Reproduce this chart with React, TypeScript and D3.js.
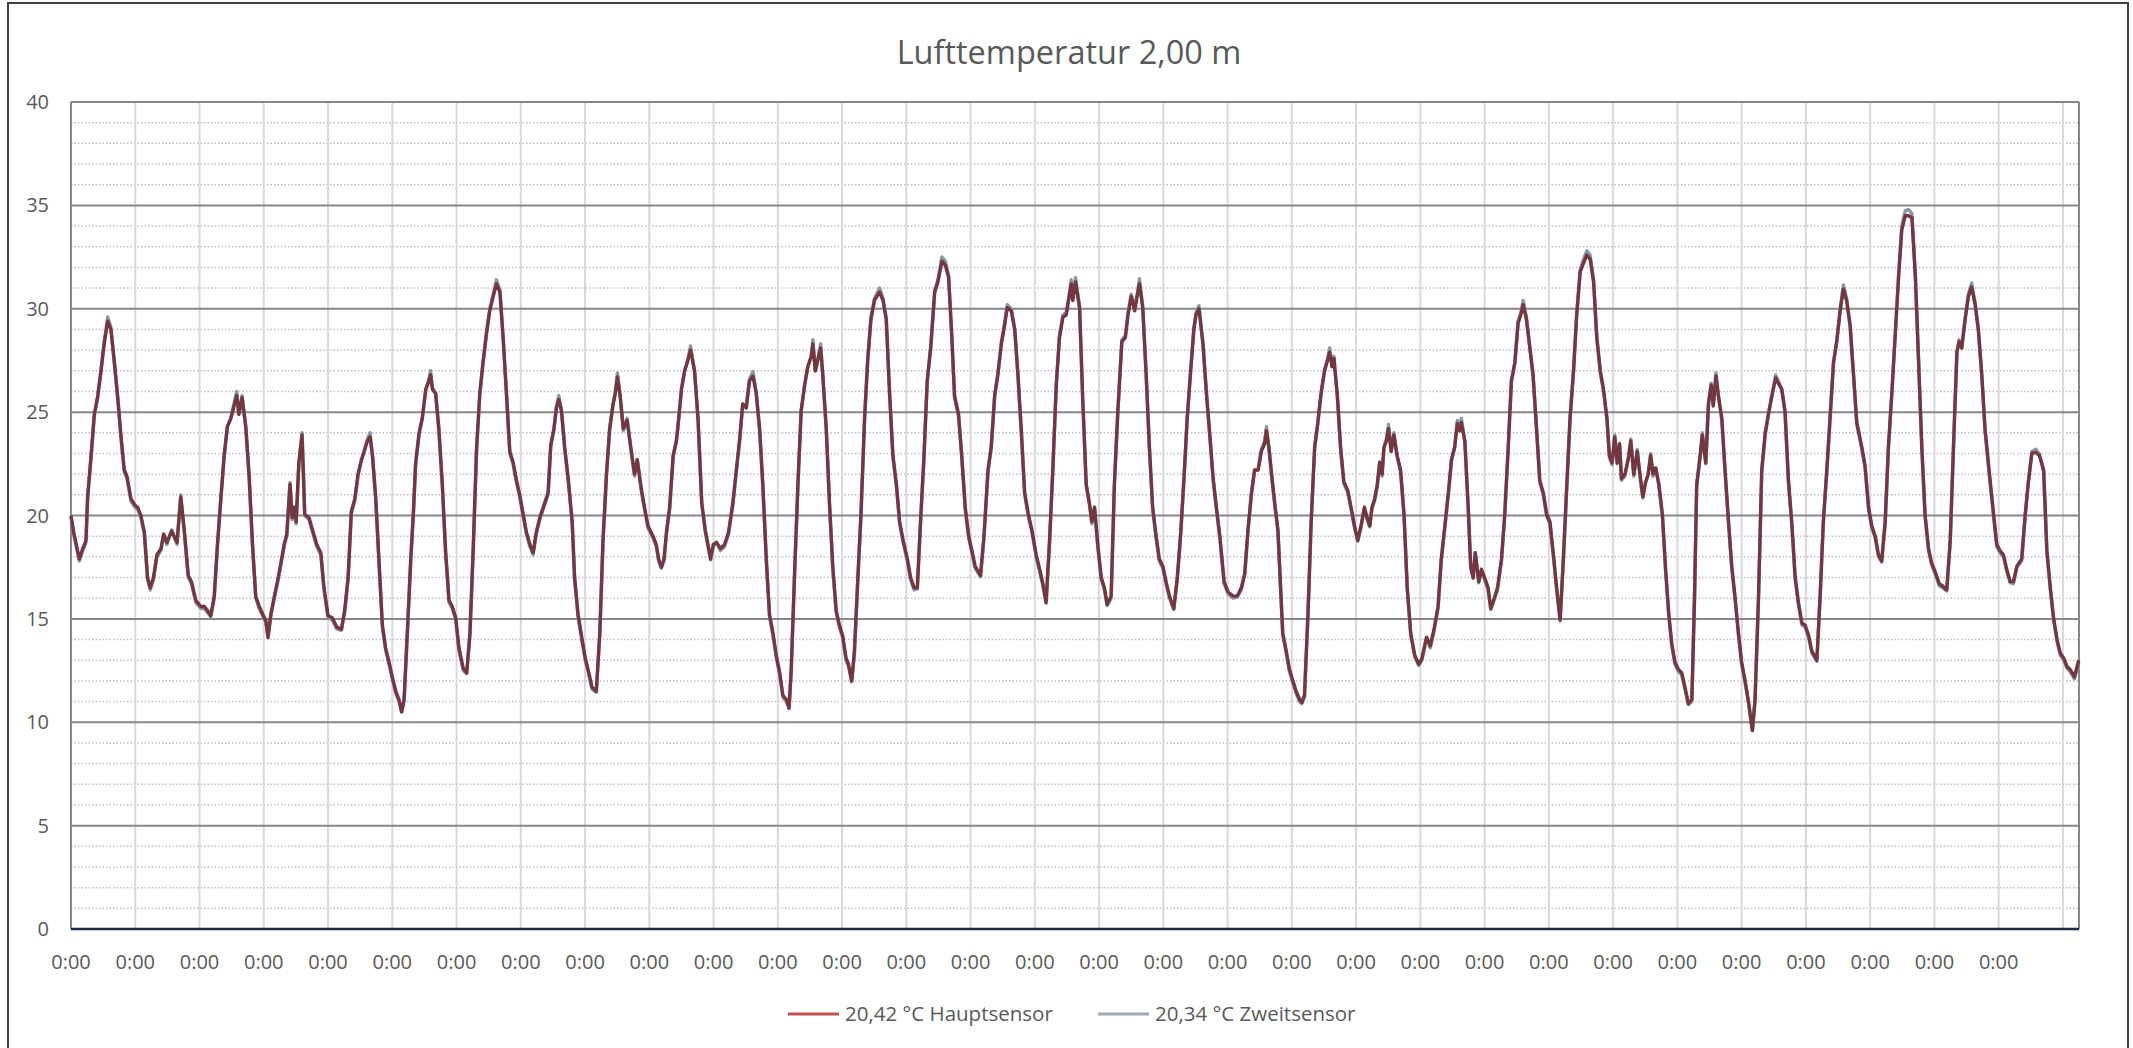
import React from "react";
import * as d3 from "d3";

// Lufttemperatur 2,00 m – Messwerte [Stunde seit Beginn, °C]
const titel = "Lufttemperatur 2,00 m";
const yTicks = [0, 5, 10, 15, 20, 25, 30, 35, 40];
const tage = d3.range(0, 32); // Tagesgitterlinien
const tagesLabels = d3.range(0, 31).map(() => "0:00");
const legendeNamen = ["20,42 °C Hauptsensor", "20,34 °C Zweitsensor"];
const legendeFarben = ["#c0504d", "#a2a8b3"];

const hauptsensor: [number, number][] = [
  [0, 20.0], [1, 19.2], [3.1, 17.9], [4.4, 18.4], [5.6, 18.8], [6.2, 20.9], [7.5, 22.9], [8.7, 24.9], [10, 25.8], [11.2, 27.0], [12.4, 28.3], [13.7, 29.4], [14.9, 29.0], [16.2, 27.4], [17.4, 25.8], [18.7, 23.8], [19.9, 22.2], [20.9, 21.9], [22.4, 20.8], [23.9, 20.5],
  [24.9, 20.4], [26.1, 20.0], [27.4, 19.2], [28.6, 17.0], [29.6, 16.5], [30.8, 17.0], [32.1, 18.1], [33.6, 18.4], [34.6, 19.1], [35.8, 18.7], [37.6, 19.25], [39.6, 18.7], [41.0, 20.9], [42.3, 19.3], [43.8, 17.1], [45.0, 16.8], [46.6, 15.9],
  [48.5, 15.6], [49.8, 15.6], [51, 15.4], [52.2, 15.15], [53.5, 16.1], [54.7, 18.6], [56, 20.9], [57.2, 22.9], [58.4, 24.3], [59.7, 24.7], [60.7, 25.2], [61.9, 25.8], [62.7, 24.9], [63.9, 25.7], [65.3, 24.3], [66.5, 22.0], [67.8, 18.6], [69, 16.1], [70.3, 15.6],
  [71.9, 15.15], [72.8, 14.9], [73.6, 14.1], [74.6, 15.2], [75.8, 16.0], [77.1, 16.8], [78.4, 17.7], [79.6, 18.6], [80.6, 19.1], [81.8, 21.5], [82.6, 19.9], [83.3, 20.4], [84.1, 19.7], [85.1, 22.55], [86.3, 23.9], [87.3, 20.05], [88.9, 19.9], [90.2, 19.3], [91.8, 18.6], [93.3, 18.2], [94.5, 16.5],
  [96, 15.15], [97.6, 15.05], [99.3, 14.6], [101, 14.5], [102.2, 15.4], [103.5, 17.0], [104.7, 20.2], [106, 20.8], [107.2, 22.0], [108.5, 22.7], [109.5, 23.1], [110.7, 23.6], [111.7, 23.8], [112.6, 22.9], [113.8, 20.9], [115, 17.9], [116.3, 14.7], [117.5, 13.6], [118.8, 12.9],
  [120, 12.2], [121.3, 11.5], [122.5, 11.1], [123.5, 10.5], [124.4, 11.1], [125.6, 14.3], [126.9, 17.9], [127.9, 20.2], [128.7, 22.5], [130, 24.0], [131.2, 24.7], [132.5, 26.1], [133.7, 26.5], [134.3, 26.8], [135, 26.1], [136.2, 25.9], [137.4, 24.2], [138.7, 21.5], [139.9, 18.3], [141.2, 15.9], [142.4, 15.6], [143.7, 15.05],
  [144.9, 13.6], [146.5, 12.6], [147.8, 12.4], [149, 14.3], [150.2, 18.3], [151.5, 23.3], [152.7, 25.9], [153.9, 27.4], [155.2, 28.8], [156.4, 29.9], [157.7, 30.6], [158.9, 31.2], [160.2, 30.8], [161.4, 28.6], [162.7, 25.8], [163.9, 23.1], [165.1, 22.6], [166.4, 21.7], [167.6, 21.0],
  [168.9, 20.05], [170.1, 19.2], [171.4, 18.6], [172.6, 18.2], [173.8, 19.2], [175.1, 19.9], [176.9, 20.6], [178.2, 21.1], [179.2, 23.4], [180.4, 24.2], [181.3, 25.2], [182.2, 25.6], [183.2, 25.05], [184.4, 23.3], [185.7, 21.8], [187.2, 19.7], [188.1, 17.0], [189.4, 15.2], [190.9, 14.0],
  [192.1, 13.1], [193.4, 12.4], [194.6, 11.7], [196.2, 11.5], [197.5, 14.3], [198.7, 18.8], [200, 22.0], [201.2, 24.2], [202.5, 25.4], [203.3, 25.9], [204.1, 26.7], [205.1, 25.8], [206.3, 24.2], [207.7, 24.6], [209.3, 23.1], [210.5, 22.0], [211.5, 22.7], [213, 21.3], [214.2, 20.4],
  [215.5, 19.5], [217.4, 19.0], [218.6, 18.6], [219.5, 17.9], [220.5, 17.5], [221.5, 17.9], [222.4, 19.2], [223.6, 20.4], [224.9, 22.9], [226.1, 23.6], [226.7, 24.3], [228, 26.1], [229.2, 27.0], [230.5, 27.55], [231.4, 28.0], [232.9, 27.0], [234.2, 24.7], [235.6, 20.6], [236.9, 19.3], [237.9, 18.6], [238.9, 17.9],
  [239.9, 18.6], [241.1, 18.7], [242.6, 18.4], [244.1, 18.6], [245.6, 19.2], [247.2, 20.6], [248.5, 22.2], [249.7, 23.6], [250.9, 25.4], [252.2, 25.2], [253.4, 26.5], [254.7, 26.75], [255.9, 25.95], [257.2, 24.2], [258.4, 21.5], [259.7, 17.9], [260.9, 15.2], [262.2, 14.3], [263.4, 13.25],
  [264.7, 12.4], [265.9, 11.3], [267.2, 11.1], [268.2, 10.7], [269, 12.55], [270.2, 17.0], [271.5, 21.5], [272.7, 25.05], [274, 26.3], [275.2, 27.2], [276.5, 27.7], [277.1, 28.3], [278, 27.0], [279, 27.55], [280, 28.1], [280.8, 26.8], [282.1, 24.2], [283.3, 20.6], [284.5, 17.6], [285.8, 15.4], [287, 14.7],
  [288.2, 14.2], [289.5, 13.1], [290.4, 12.8], [291.6, 12.0], [292.6, 13.4], [293.9, 17.0], [295.1, 20.2], [296.4, 24.7], [297.6, 27.55], [298.8, 29.5], [300.1, 30.4], [302, 30.8], [303.3, 30.4], [304.5, 29.5], [305.8, 25.8], [307, 22.9], [308.3, 21.5], [309.5, 19.7], [310.8, 18.8],
  [312.4, 17.9], [313.6, 17.0], [314.9, 16.5], [316.1, 16.5], [317.3, 19.7], [318.6, 22.9], [319.8, 26.5], [321.1, 28.1], [322.6, 30.8], [323.8, 31.3], [325.3, 32.3], [326.6, 32.1], [327.8, 31.5], [329, 28.6], [330, 25.8], [331.5, 24.9], [332.7, 22.9], [334, 20.4], [335.3, 19.0],
  [336.5, 18.3], [337.7, 17.55], [339.7, 17.1], [341, 19.0], [342.5, 22.2], [343.7, 23.3], [345, 25.8], [346.2, 26.8], [347.5, 28.3], [348.7, 29.2], [349.7, 30.05], [351.2, 29.9], [352.5, 29.0], [353.7, 26.8], [355, 24.0], [356.2, 21.1], [357.6, 20.05], [358.9, 19.3],
  [360.5, 18.1], [361.8, 17.4], [363, 16.7], [364.2, 15.8], [365.5, 18.8], [366.7, 22.2], [368, 26.3], [369.2, 28.6], [370.5, 29.6], [371.7, 29.7], [372.6, 30.4], [373.6, 31.2], [374.2, 30.4], [375.2, 31.3], [376.7, 30.05], [377.9, 25.6], [379.2, 21.5], [380.4, 20.6], [381.3, 19.7], [382.3, 20.4], [383.5, 18.6],
  [384.8, 17.0], [386, 16.5], [387, 15.7], [388.5, 16.1], [389.7, 21.5], [391, 25.05], [392.5, 28.4], [393.8, 28.6], [394.8, 29.7], [396, 30.6], [397.3, 29.9], [398.2, 30.6], [399.1, 31.2], [400.3, 30.05], [401.6, 26.8], [402.8, 23.3], [404, 20.4], [405.3, 19.0], [406.5, 17.9], [407.8, 17.55],
  [409, 16.8], [410.3, 16.1], [411.9, 15.5], [413.2, 17.0], [414.4, 19.0], [415.7, 21.8], [416.9, 24.7], [418.2, 27.0], [419.4, 29.0], [420.2, 29.7], [421.3, 30.0], [422.8, 28.3], [424, 26.1], [425.3, 24.0], [426.6, 21.8], [427.8, 20.4], [429.1, 19.0], [430.7, 16.8],
  [432.2, 16.3], [434.1, 16.1], [435.6, 16.1], [437.1, 16.5], [438.4, 17.2], [439.6, 19.3], [440.9, 21.1], [442.1, 22.2], [443.4, 22.2], [444.6, 23.1], [445.8, 23.45], [446.5, 24.1], [447.4, 23.3], [448.6, 21.8], [449.6, 20.6], [450.8, 19.3], [451.8, 16.5], [452.6, 14.3], [453.9, 13.45], [455.1, 12.55],
  [456.4, 12.0], [457.6, 11.5], [458.9, 11.1], [459.7, 10.95], [460.7, 11.3], [462, 15.2], [463.2, 19.7], [464.5, 23.3], [465.7, 24.5], [466.9, 25.9], [468.2, 27.0], [469.4, 27.55], [470.1, 27.9], [471, 27.2], [471.7, 27.6], [473, 25.8], [474.2, 23.3], [475.4, 21.65], [476.9, 21.2], [478.1, 20.4], [479.4, 19.5],
  [480.6, 18.8], [481.8, 19.5], [483.1, 20.4], [484.1, 19.9], [485.1, 19.5], [485.9, 20.4], [486.9, 20.8], [487.9, 21.5], [488.8, 22.55], [489.7, 22.0], [490.4, 23.3], [491.3, 23.6], [492.1, 24.2], [493.1, 23.1], [494.1, 23.9], [495.3, 22.9], [496.6, 22.2], [497.9, 20.05], [499.1, 16.5], [500.4, 14.3], [501.9, 13.25], [503.4, 12.8],
  [504.6, 13.1], [506.3, 14.1], [507.7, 13.7], [509.1, 14.5], [510.6, 15.6], [511.8, 17.9], [513.3, 19.7], [514.6, 21.3], [515.6, 22.7], [516.8, 23.3], [517.8, 24.45], [518.7, 24.1], [519.3, 24.5], [520.6, 23.6], [521.8, 20.6], [522.8, 17.55], [523.7, 17.0], [524.5, 18.2], [525.8, 16.8], [526.8, 17.4],
  [528, 17.0], [529.3, 16.5], [530.3, 15.5], [531.5, 15.95], [532.8, 16.5], [534.3, 17.9], [535.5, 20.05], [536.8, 23.3], [538, 26.5], [539.3, 27.4], [540.5, 29.3], [541.5, 29.7], [542.4, 30.2], [543.6, 29.5], [544.9, 28.1], [546.1, 26.8], [547.4, 24.2], [548.6, 21.7], [549.9, 21.1],
  [551.2, 20.05], [552.4, 19.7], [553.7, 18.1], [554.9, 16.5], [556.2, 14.95], [557.4, 17.9], [558.7, 21.5], [559.9, 24.7], [561.2, 27.0], [562.4, 29.7], [563.7, 31.8], [564.9, 32.2], [566.2, 32.6], [567.4, 32.4], [568.7, 31.3], [569.9, 28.6], [571.2, 27.0], [572.4, 26.1], [573.7, 24.7], [574.6, 22.9],
  [575.6, 22.55], [576.6, 23.8], [577.5, 22.55], [578.4, 23.45], [579.1, 21.8], [580.4, 22.0], [581.6, 22.7], [582.6, 23.6], [583.7, 22.0], [585, 23.1], [586.2, 21.8], [587.1, 20.9], [588.1, 21.6], [589.1, 22.0], [590, 22.9], [590.9, 22.0], [591.9, 22.3], [593.1, 21.5], [594.4, 20.05], [595.6, 17.4], [596.8, 15.2], [597.9, 13.8], [599.1, 12.9],
  [600.4, 12.55], [601.6, 12.4], [602.9, 11.65], [604.1, 10.9], [605.4, 11.1], [606.4, 16.1], [607.2, 21.5], [608.5, 22.9], [609.3, 23.9], [610.6, 22.55], [611.6, 25.4], [612.6, 26.3], [613.4, 25.3], [614.4, 26.75], [615.3, 25.8], [616.6, 24.7], [617.8, 22.2], [619.1, 19.7], [620.3, 17.55], [621.5, 16.1], [622.8, 14.3],
  [624, 12.9], [625.3, 12.0], [626.6, 10.95], [628, 9.6], [629, 11.1], [630.3, 16.1], [631.5, 22.2], [632.8, 24.0], [634, 24.9], [635.3, 25.8], [636.7, 26.65], [637.7, 26.4], [639, 26.1], [640.2, 25.05], [641.5, 21.65], [642.7, 19.7], [644, 17.0], [645.2, 15.8], [646.5, 14.8], [647.7, 14.7],
  [649, 14.2], [650.2, 13.45], [652.1, 13.0], [653.3, 16.1], [654.5, 19.7], [655.8, 22.2], [657, 24.7], [658.3, 27.4], [659.5, 28.4], [660.8, 29.9], [662, 30.95], [663.2, 30.4], [664.5, 29.2], [665.8, 26.8], [667, 24.5], [668.9, 23.3], [670.1, 22.4], [671.4, 20.4],
  [672.6, 19.5], [673.9, 19.0], [675.1, 18.1], [676.3, 17.8], [677.6, 19.7], [678.8, 23.3], [680.1, 25.95], [681.3, 28.6], [682.6, 31.5], [683.8, 33.8], [685.1, 34.5], [686.3, 34.5], [687.6, 34.4], [688.9, 31.5], [690, 27.75], [691.3, 23.3], [692.5, 20.05], [693.8, 18.4], [695, 17.7],
  [696.5, 17.2], [697.8, 16.7], [699, 16.6], [700.6, 16.4], [701.9, 18.8], [703.1, 23.3], [704.4, 27.9], [705.2, 28.4], [706.2, 28.1], [707.5, 29.5], [708.7, 30.6], [709.9, 31.05], [711.2, 30.2], [712.4, 29.0], [713.7, 26.8], [714.9, 24.2], [716.4, 22.2], [718.1, 20.05], [719.3, 18.6],
  [720.5, 18.3], [721.8, 18.1], [723, 17.4], [724.3, 16.8], [725.5, 16.8], [726.8, 17.55], [728.6, 17.9], [729.9, 20.05], [731.1, 21.65], [732.4, 23.0], [733.9, 23.05], [735.2, 22.9], [736.8, 22.2], [738, 18.3], [739.3, 16.5], [740.5, 15.05], [741.8, 14.0], [743, 13.35],
  [744.3, 13.1], [745.5, 12.7], [746.7, 12.55], [748.3, 12.2], [749.9, 13.0],
];

const zweitsensor: [number, number][] = [
  [0, 19.9], [1, 19.1], [3.1, 17.8], [4.4, 18.3], [5.6, 18.7], [6.2, 20.8], [7.5, 22.8], [8.7, 24.8], [10, 25.7], [11.2, 27.0], [12.4, 28.4], [13.7, 29.6], [14.9, 29.1], [16.2, 27.4], [17.4, 25.7], [18.7, 23.7], [19.9, 22.1], [20.9, 21.8], [22.4, 20.7], [23.9, 20.4],
  [24.9, 20.3], [26.1, 19.9], [27.4, 19.1], [28.6, 16.9], [29.6, 16.4], [30.8, 16.9], [32.1, 18.0], [33.6, 18.3], [34.6, 19.1], [35.8, 18.6], [37.6, 19.3], [39.6, 18.6], [41.0, 21.0], [42.3, 19.2], [43.8, 17.0], [45.0, 16.7], [46.6, 15.8],
  [48.5, 15.5], [49.8, 15.5], [51, 15.3], [52.2, 15.1], [53.5, 16.0], [54.7, 18.5], [56, 20.8], [57.2, 22.8], [58.4, 24.3], [59.7, 24.7], [60.7, 25.3], [61.9, 26.0], [62.7, 24.9], [63.9, 25.8], [65.3, 24.2], [66.5, 21.9], [67.8, 18.5], [69, 16.0], [70.3, 15.5],
  [71.9, 15.05], [72.8, 14.8], [73.6, 14.1], [74.6, 15.1], [75.8, 15.9], [77.1, 16.7], [78.4, 17.6], [79.6, 18.5], [80.6, 19.0], [81.8, 21.6], [82.6, 19.8], [83.3, 20.3], [84.1, 19.6], [85.1, 22.5], [86.3, 24.0], [87.3, 20.0], [88.9, 19.8], [90.2, 19.2], [91.8, 18.5], [93.3, 18.1], [94.5, 16.4],
  [96, 15.05], [97.6, 14.95], [99.3, 14.5], [101, 14.45], [102.2, 15.3], [103.5, 16.9], [104.7, 20.1], [106, 20.7], [107.2, 21.9], [108.5, 22.7], [109.5, 23.1], [110.7, 23.7], [111.7, 24.0], [112.6, 22.9], [113.8, 20.8], [115, 17.8], [116.3, 14.6], [117.5, 13.5], [118.8, 12.8],
  [120, 12.1], [121.3, 11.4], [122.5, 11.0], [123.5, 10.5], [124.4, 11.0], [125.6, 14.2], [126.9, 17.8], [127.9, 20.1], [128.7, 22.4], [130, 23.9], [131.2, 24.7], [132.5, 26.1], [133.7, 26.6], [134.3, 27.0], [135, 26.2], [136.2, 25.9], [137.4, 24.1], [138.7, 21.4], [139.9, 18.2], [141.2, 15.8], [142.4, 15.5], [143.7, 14.95],
  [144.9, 13.5], [146.5, 12.5], [147.8, 12.35], [149, 14.2], [150.2, 18.2], [151.5, 23.2], [152.7, 25.9], [153.9, 27.4], [155.2, 28.9], [156.4, 30.0], [157.7, 30.7], [158.9, 31.4], [160.2, 30.9], [161.4, 28.6], [162.7, 25.7], [163.9, 23.0], [165.1, 22.5], [166.4, 21.6], [167.6, 20.9],
  [168.9, 19.95], [170.1, 19.1], [171.4, 18.5], [172.6, 18.1], [173.8, 19.1], [175.1, 19.8], [176.9, 20.5], [178.2, 21.0], [179.2, 23.4], [180.4, 24.2], [181.3, 25.3], [182.2, 25.8], [183.2, 25.1], [184.4, 23.2], [185.7, 21.7], [187.2, 19.6], [188.1, 16.9], [189.4, 15.1], [190.9, 13.9],
  [192.1, 13.0], [193.4, 12.3], [194.6, 11.6], [196.2, 11.45], [197.5, 14.2], [198.7, 18.7], [200, 21.9], [201.2, 24.2], [202.5, 25.4], [203.3, 26.0], [204.1, 26.9], [205.1, 25.8], [206.3, 24.1], [207.7, 24.7], [209.3, 23.0], [210.5, 21.9], [211.5, 22.7], [213, 21.2], [214.2, 20.3],
  [215.5, 19.4], [217.4, 18.9], [218.6, 18.5], [219.5, 17.8], [220.5, 17.45], [221.5, 17.8], [222.4, 19.1], [223.6, 20.3], [224.9, 22.8], [226.1, 23.6], [226.7, 24.3], [228, 26.1], [229.2, 27.0], [230.5, 27.6], [231.4, 28.2], [232.9, 27.0], [234.2, 24.6], [235.6, 20.5], [236.9, 19.2], [237.9, 18.5], [238.9, 17.85],
  [239.9, 18.5], [241.1, 18.7], [242.6, 18.3], [244.1, 18.5], [245.6, 19.1], [247.2, 20.5], [248.5, 22.1], [249.7, 23.6], [250.9, 25.4], [252.2, 25.2], [253.4, 26.6], [254.7, 26.95], [255.9, 26.0], [257.2, 24.1], [258.4, 21.4], [259.7, 17.8], [260.9, 15.1], [262.2, 14.2], [263.4, 13.15],
  [264.7, 12.3], [265.9, 11.2], [267.2, 11.0], [268.2, 10.65], [269, 12.45], [270.2, 16.9], [271.5, 21.4], [272.7, 25.0], [274, 26.3], [275.2, 27.2], [276.5, 27.7], [277.1, 28.5], [278, 27.0], [279, 27.6], [280, 28.3], [280.8, 26.8], [282.1, 24.1], [283.3, 20.5], [284.5, 17.5], [285.8, 15.3], [287, 14.6],
  [288.2, 14.1], [289.5, 13.0], [290.4, 12.7], [291.6, 11.95], [292.6, 13.3], [293.9, 16.9], [295.1, 20.1], [296.4, 24.7], [297.6, 27.6], [298.8, 29.6], [300.1, 30.5], [302, 31.0], [303.3, 30.5], [304.5, 29.5], [305.8, 25.7], [307, 22.8], [308.3, 21.4], [309.5, 19.6], [310.8, 18.7],
  [312.4, 17.8], [313.6, 16.9], [314.9, 16.4], [316.1, 16.45], [317.3, 19.6], [318.6, 22.8], [319.8, 26.5], [321.1, 28.2], [322.6, 30.9], [323.8, 31.4], [325.3, 32.5], [326.6, 32.3], [327.8, 31.6], [329, 28.6], [330, 25.7], [331.5, 24.8], [332.7, 22.8], [334, 20.3], [335.3, 18.9],
  [336.5, 18.2], [337.7, 17.45], [339.7, 17.05], [341, 18.9], [342.5, 22.1], [343.7, 23.3], [345, 25.8], [346.2, 26.9], [347.5, 28.4], [348.7, 29.3], [349.7, 30.2], [351.2, 30.0], [352.5, 29.0], [353.7, 26.7], [355, 23.9], [356.2, 21.0], [357.6, 19.95], [358.9, 19.2],
  [360.5, 18.0], [361.8, 17.3], [363, 16.6], [364.2, 15.75], [365.5, 18.7], [366.7, 22.1], [368, 26.3], [369.2, 28.7], [370.5, 29.7], [371.7, 29.8], [372.6, 30.5], [373.6, 31.4], [374.2, 30.5], [375.2, 31.5], [376.7, 30.1], [377.9, 25.5], [379.2, 21.4], [380.4, 20.5], [381.3, 19.6], [382.3, 20.4], [383.5, 18.5],
  [384.8, 16.9], [386, 16.4], [387, 15.65], [388.5, 16.0], [389.7, 21.4], [391, 25.0], [392.5, 28.5], [393.8, 28.7], [394.8, 29.8], [396, 30.7], [397.3, 30.0], [398.2, 30.7], [399.1, 31.45], [400.3, 30.1], [401.6, 26.7], [402.8, 23.2], [404, 20.3], [405.3, 18.9], [406.5, 17.8], [407.8, 17.45],
  [409, 16.7], [410.3, 16.0], [411.9, 15.45], [413.2, 16.9], [414.4, 18.9], [415.7, 21.7], [416.9, 24.7], [418.2, 27.0], [419.4, 29.1], [420.2, 29.8], [421.3, 30.15], [422.8, 28.3], [424, 26.0], [425.3, 23.9], [426.6, 21.7], [427.8, 20.3], [429.1, 18.9], [430.7, 16.7],
  [432.2, 16.2], [434.1, 16.0], [435.6, 16.05], [437.1, 16.4], [438.4, 17.1], [439.6, 19.2], [440.9, 21.0], [442.1, 22.2], [443.4, 22.2], [444.6, 23.2], [445.8, 23.6], [446.5, 24.3], [447.4, 23.3], [448.6, 21.7], [449.6, 20.5], [450.8, 19.2], [451.8, 16.4], [452.6, 14.2], [453.9, 13.35], [455.1, 12.45],
  [456.4, 11.9], [457.6, 11.4], [458.9, 11.0], [459.7, 10.9], [460.7, 11.2], [462, 15.1], [463.2, 19.6], [464.5, 23.2], [465.7, 24.5], [466.9, 25.9], [468.2, 27.0], [469.4, 27.6], [470.1, 28.1], [471, 27.2], [471.7, 27.7], [473, 25.7], [474.2, 23.2], [475.4, 21.55], [476.9, 21.1], [478.1, 20.3], [479.4, 19.4],
  [480.6, 18.75], [481.8, 19.4], [483.1, 20.3], [484.1, 19.8], [485.1, 19.45], [485.9, 20.3], [486.9, 20.7], [487.9, 21.4], [488.8, 22.6], [489.7, 21.9], [490.4, 23.3], [491.3, 23.7], [492.1, 24.4], [493.1, 23.1], [494.1, 24.0], [495.3, 22.9], [496.6, 22.1], [497.9, 19.95], [499.1, 16.4], [500.4, 14.2], [501.9, 13.15], [503.4, 12.75],
  [504.6, 13.0], [506.3, 14.1], [507.7, 13.6], [509.1, 14.4], [510.6, 15.5], [511.8, 17.8], [513.3, 19.6], [514.6, 21.2], [515.6, 22.6], [516.8, 23.3], [517.8, 24.6], [518.7, 24.1], [519.3, 24.7], [520.6, 23.6], [521.8, 20.5], [522.8, 17.45], [523.7, 16.95], [524.5, 18.2], [525.8, 16.75], [526.8, 17.3],
  [528, 16.9], [529.3, 16.4], [530.3, 15.45], [531.5, 15.9], [532.8, 16.4], [534.3, 17.8], [535.5, 19.95], [536.8, 23.2], [538, 26.5], [539.3, 27.4], [540.5, 29.4], [541.5, 29.8], [542.4, 30.4], [543.6, 29.6], [544.9, 28.1], [546.1, 26.7], [547.4, 24.1], [548.6, 21.6], [549.9, 21.0],
  [551.2, 19.95], [552.4, 19.6], [553.7, 18.0], [554.9, 16.4], [556.2, 14.9], [557.4, 17.8], [558.7, 21.4], [559.9, 24.7], [561.2, 27.0], [562.4, 29.8], [563.7, 31.9], [564.9, 32.4], [566.2, 32.8], [567.4, 32.6], [568.7, 31.4], [569.9, 28.6], [571.2, 26.9], [572.4, 26.0], [573.7, 24.6], [574.6, 22.8],
  [575.6, 22.45], [576.6, 23.9], [577.5, 22.5], [578.4, 23.5], [579.1, 21.7], [580.4, 21.9], [581.6, 22.7], [582.6, 23.7], [583.7, 21.9], [585, 23.2], [586.2, 21.7], [587.1, 20.85], [588.1, 21.6], [589.1, 22.0], [590, 23.0], [590.9, 21.9], [591.9, 22.3], [593.1, 21.4], [594.4, 19.95], [595.6, 17.3], [596.8, 15.1], [597.9, 13.7], [599.1, 12.8],
  [600.4, 12.45], [601.6, 12.3], [602.9, 11.55], [604.1, 10.85], [605.4, 11.0], [606.4, 16.0], [607.2, 21.4], [608.5, 22.8], [609.3, 24.0], [610.6, 22.5], [611.6, 25.4], [612.6, 26.4], [613.4, 25.3], [614.4, 26.9], [615.3, 25.8], [616.6, 24.6], [617.8, 22.1], [619.1, 19.6], [620.3, 17.45], [621.5, 16.0], [622.8, 14.2],
  [624, 12.8], [625.3, 11.9], [626.6, 10.9], [628, 9.6], [629, 11.0], [630.3, 16.0], [631.5, 22.1], [632.8, 23.9], [634, 24.9], [635.3, 25.8], [636.7, 26.8], [637.7, 26.5], [639, 26.1], [640.2, 24.95], [641.5, 21.55], [642.7, 19.6], [644, 16.9], [645.2, 15.7], [646.5, 14.7], [647.7, 14.6],
  [649, 14.1], [650.2, 13.35], [652.1, 12.95], [653.3, 16.0], [654.5, 19.6], [655.8, 22.1], [657, 24.6], [658.3, 27.4], [659.5, 28.4], [660.8, 30.0], [662, 31.15], [663.2, 30.5], [664.5, 29.2], [665.8, 26.7], [667, 24.4], [668.9, 23.2], [670.1, 22.3], [671.4, 20.3],
  [672.6, 19.4], [673.9, 18.9], [675.1, 18.0], [676.3, 17.75], [677.6, 19.6], [678.8, 23.2], [680.1, 25.9], [681.3, 28.6], [682.6, 31.6], [683.8, 34.0], [685.1, 34.75], [686.3, 34.8], [687.6, 34.6], [688.9, 31.6], [690, 27.7], [691.3, 23.2], [692.5, 19.95], [693.8, 18.3], [695, 17.6],
  [696.5, 17.1], [697.8, 16.6], [699, 16.5], [700.6, 16.35], [701.9, 18.7], [703.1, 23.2], [704.4, 27.9], [705.2, 28.5], [706.2, 28.1], [707.5, 29.6], [708.7, 30.7], [709.9, 31.25], [711.2, 30.3], [712.4, 29.0], [713.7, 26.7], [714.9, 24.1], [716.4, 22.1], [718.1, 19.95], [719.3, 18.5],
  [720.5, 18.2], [721.8, 18.0], [723, 17.3], [724.3, 16.75], [725.5, 16.7], [726.8, 17.5], [728.6, 17.8], [729.9, 19.95], [731.1, 21.6], [732.4, 23.1], [733.9, 23.2], [735.2, 23.0], [736.8, 22.1], [738, 18.2], [739.3, 16.4], [740.5, 14.95], [741.8, 13.9], [743, 13.25],
  [744.3, 13.0], [745.5, 12.6], [746.7, 12.45], [748.3, 12.1], [749.9, 12.9],
];

const breite = 2133;
const hoehe = 1048;
const links = 71;
const rechts = 2079;
const oben = 102;
const unten = 929;
const schrift = "'Open Sans', 'Noto Sans', sans-serif";

export default function App() {
  const x = d3.scaleLinear().domain([0, 750]).range([links, rechts]);
  const y = d3.scaleLinear().domain([0, 40]).range([unten, oben]);
  const linie = d3
    .line<[number, number]>()
    .x((d) => x(d[0]))
    .y((d) => y(d[1]));

  const minorTicks = d3.range(1, 40).filter((v) => v % 5 !== 0);

  return (
    <svg
      width={breite}
      height={hoehe}
      style={{ position: "absolute", left: 0, top: 0, background: "#fff" }}
      fontFamily={schrift}
    >
      <rect x={0} y={0} width={breite} height={hoehe} fill="#fff" />
      <rect x={8} y={3} width={2120} height={1060} fill="none" stroke="#404040" strokeWidth={2} />

      <text x={1069} y={64} textAnchor="middle" fontSize={32.5} fill="#595959">
        {titel}
      </text>

      {/* Nebengitter */}
      {minorTicks.map((v) => (
        <line
          key={"m" + v}
          x1={links}
          x2={rechts}
          y1={y(v)}
          y2={y(v)}
          stroke="#bfbfbf"
          strokeWidth={1.5}
          strokeDasharray="1.5,2"
        />
      ))}
      {/* Tage */}
      {tage.map((t) => (
        <line
          key={"t" + t}
          x1={x(t * 24)}
          x2={x(t * 24)}
          y1={oben}
          y2={unten}
          stroke="#d9d9d9"
          strokeWidth={2}
        />
      ))}
      {/* Hauptgitter */}
      {yTicks.map((v) => (
        <line
          key={"g" + v}
          x1={links}
          x2={rechts}
          y1={y(v)}
          y2={y(v)}
          stroke="#878787"
          strokeWidth={2}
        />
      ))}
      <line x1={links} x2={links} y1={oben} y2={unten} stroke="#878787" strokeWidth={2} />
      <line x1={rechts} x2={rechts} y1={oben} y2={unten} stroke="#878787" strokeWidth={2} />

      {yTicks.map((v) => (
        <text
          key={"yl" + v}
          x={49}
          y={y(v)}
          dy="0.35em"
          textAnchor="end"
          fontSize={20}
          fill="#595959"
        >
          {v}
        </text>
      ))}
      {tagesLabels.map((l, i) => (
        <text
          key={"xl" + i}
          x={x(i * 24)}
          y={969}
          textAnchor="middle"
          fontSize={20}
          fill="#595959"
        >
          {l}
        </text>
      ))}

      <path d={linie(zweitsensor) ?? ""} fill="none" stroke="#8c96a6" strokeWidth={3.4} strokeLinejoin="round" />
      <path d={linie(hauptsensor) ?? ""} fill="none" stroke="#723741" strokeWidth={3.4} strokeLinejoin="round" />

      <line x1={links} x2={rechts} y1={unten} y2={unten} stroke="#1f2d45" strokeWidth={2.5} />

      {/* Legende */}
      {legendeNamen.map((n, i) => {
        const lx = i === 0 ? 788 : 1098;
        return (
          <g key={n}>
            <line x1={lx} x2={lx + 51} y1={1014} y2={1014} stroke={legendeFarben[i]} strokeWidth={3} />
            <text x={lx + 57} y={1021} fontSize={20.5} fill="#595959">
              {n}
            </text>
          </g>
        );
      })}
    </svg>
  );
}
